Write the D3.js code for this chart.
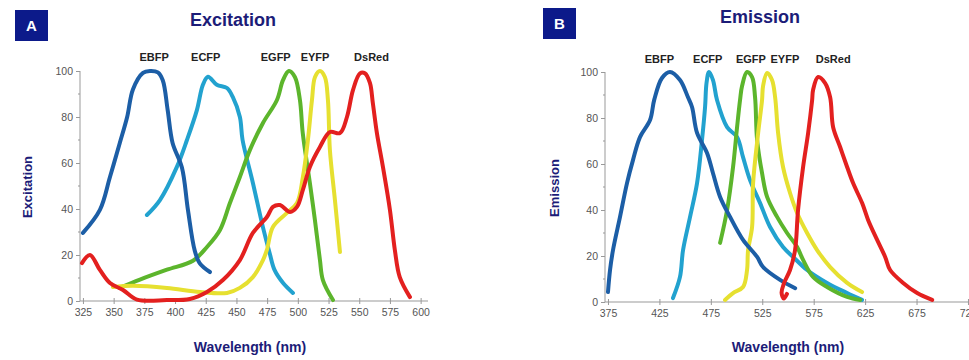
<!DOCTYPE html>
<html>
<head>
<meta charset="utf-8">
<script src="https://cdn.jsdelivr.net/npm/d3@7/dist/d3.min.js"></script>
<style>
  body { margin: 0; background: #fff; }
  svg { display: block; }
  .tick text { font-family: "Liberation Sans Narrow", "Liberation Sans", Arial, sans-serif; fill: #555; }
</style>
</head>
<body>
<div id="chart"></div>
<script>
// Data: [wavelength nm, relative value]
var names = ["EBFP", "ECFP", "EGFP", "EYFP", "DsRed"];
var colors = ["#1c5ea6", "#22a2cf", "#5cb52c", "#e6e030", "#e3201f"];

var exEBFP = [[325,29.6],[338.8,39.6],[347,53.9],[355,68.7],[361,80],[365.7,92],[373.9,99.2],[379.6,100],[386,99.4],[390,96],[394,83],[398,68.7],[405.6,58],[410.5,39.6],[416,22],[420,16.5],[428.4,12.6]];
var exECFP = [[377.1,37.4],[387.7,43.9],[401.5,58.3],[409.7,70],[417.8,83],[422.7,94],[426.8,97.5],[434,94],[442.3,92.6],[447,88.7],[452.8,80],[455,70],[463.4,51.3],[471.6,32],[477,20.9],[481,13.5],[488,7.8],[496,3.5]];
var exEGFP = [[355,5.7],[371.4,9.3],[393.4,13.6],[414.6,17.5],[426,23.5],[436.6,30.9],[444.7,42.6],[452.8,53.9],[461,65.7],[471.6,77.4],[483,87.4],[487.9,96],[492.7,100],[497.6,97.4],[501.7,87.4],[504,73],[509.8,51.3],[513.9,35.2],[518,17.8],[520.4,9.1],[528.6,0.4]];
var exEYFP = [[349.4,6.1],[365.7,6.6],[393.4,5.7],[420.3,3.9],[442.3,3.5],[452.8,5.7],[463.4,10.4],[471.6,17.8],[474.8,22.2],[479.7,32.2],[491.1,38.3],[499.3,42.6],[504.1,53.9],[508.2,70],[511.5,87.4],[514,97.4],[518,100],[522,97.4],[524.5,87.4],[526.1,65.7],[530.2,43.9],[534.3,21.3]];
var exDsRed = [[324.2,16.5],[330.7,20],[338.8,13.5],[347,7.8],[357.6,4.8],[369,0.6],[393.4,0.4],[412.1,0.9],[426,3.9],[439,9.1],[452.8,17.8],[463.4,29.6],[474.8,36.5],[479.7,40.9],[485.4,41.7],[493.6,38.7],[499.3,40.9],[504.1,48.3],[509.8,58.3],[518,67],[526.1,73.5],[534.3,73],[540,80],[544.9,91.7],[550.6,99],[554.6,99],[558.7,94.8],[561.1,86],[564.4,73],[569.3,58.3],[575,39.6],[579,22.2],[583,10.4],[591.3,1.7]];

var emEBFP = [[375,4.3],[377,13.9],[379.9,22.6],[386.7,37],[393.5,51.7],[399.3,61.7],[406.1,71.7],[415.9,79.1],[420,88],[427.5,97.4],[435.3,100],[445,96.5],[452.8,89],[456.7,84.8],[461.6,73.5],[471.3,64.8],[477.1,56],[484,45.7],[493.7,37],[506.3,27],[520,19.6],[525.8,15.2],[542.3,9.6],[557,6]];
var emECFP = [[438.2,1.7],[445,10.9],[448,22.6],[454.8,37],[461.6,51.7],[466.4,70.4],[469.4,84.8],[470.8,95.2],[473.2,100],[477.1,96.5],[481,87.8],[490.8,76],[500.5,71.7],[506.3,63],[513.1,53],[522.9,43],[532.6,32.6],[545.2,23.9],[555,19.6],[568.6,13.9],[588,8.3],[607.5,3.9],[622,0.9]];
var emEGFP = [[484,25.7],[490.8,40],[496.6,58.7],[500.5,76],[503.4,87.8],[505.4,94],[510.2,100],[515.1,97.8],[518,89],[520,70.4],[524.8,56],[529.7,45.7],[539.4,37],[549.1,30],[558.9,23.9],[564.7,18.3],[574.4,10.9],[588,6.5],[607.5,2.2],[620.2,0.9]];
var emEYFP = [[488.8,0.9],[496.6,3.9],[506.3,6.5],[510.2,13.9],[511.2,22.6],[515.1,32.6],[516.1,51.7],[521,73.5],[524.8,87.8],[525.8,94],[529.7,99.6],[534.5,96.5],[537.5,89],[538.4,84.8],[540.4,73.5],[545.2,58.7],[552,47.4],[558.9,38.7],[568.6,30],[578.3,22.6],[591,15.2],[607.5,8.3],[622,4.3]];
var emDsRed = [[549,3.5],[546,1.5],[543.8,4],[546,8],[552,13.9],[556.9,22.6],[559.8,40],[564.7,58.7],[569.6,73.5],[573.5,87.8],[574.4,92.2],[579.3,97.8],[586.1,95.2],[591,89],[593.9,76],[600.7,67.4],[607.5,58.7],[613.3,51.7],[622.1,43],[627.9,35.7],[636.7,27],[644.5,19.6],[649.3,13.9],[662,8.3],[675.6,3.9],[690.2,0.9]];

var exTicks = [325, 350, 375, 400, 425, 450, 475, 500, 525, 550, 575, 600];
var emTicks = [375, 425, 475, 525, 575, 625, 675, 725];
var yTicks = [0, 20, 40, 60, 80, 100];
var yMinor = [10, 30, 50, 70, 90];

var exLabelX = [383, 425, 482, 514, 560];   // nm where the name sits, panel A
var emLabelX = [425, 472, 514, 547, 594];   // panel B

var navy = "#1c1c78";
var font = "'Liberation Sans', Arial, sans-serif";
var narrow = "'Liberation Sans Narrow', 'Liberation Sans', Arial, sans-serif";

var svg = d3.select("#chart")
  .append("svg")
  .attr("width", 969)
  .attr("height", 360)

function drawPanel(opt) {
  var x = d3.scaleLinear().domain(opt.xDomain).range(opt.xRange);
  var y = d3.scaleLinear().domain([0, 100]).range(opt.yRange);

  var g = svg.append("g");

  // letter box
  g.append("rect")
    .attr("x", opt.box[0]).attr("y", opt.box[1])
    .attr("width", 33).attr("height", 31)
    .attr("fill", "#0c1a8a")
  g.append("text")
    .attr("x", opt.box[0] + 16.5).attr("y", opt.box[1] + 21)
    .attr("text-anchor", "middle")
    .attr("font-family", font).attr("font-weight", "bold").attr("font-size", 15)
    .attr("fill", "#fff")
    .text(opt.letter)

  g.append("text")
    .attr("x", opt.titleX).attr("y", opt.titleY)
    .attr("text-anchor", "middle")
    .attr("font-family", font).attr("font-weight", "bold").attr("font-size", 18)
    .attr("fill", navy)
    .text(opt.title)

  // axes
  var xAxis = d3.axisBottom(x).tickValues(opt.xTicks).tickSize(3).tickPadding(5)
  var gx = g.append("g")
    .attr("transform", "translate(0," + opt.yRange[0] + ")")
    .call(xAxis)
  gx.select(".domain").attr("d", "M" + opt.xRange[0] + ",0H" + opt.xRange[1])
  gx.selectAll(".tick line").attr("y1", -3)

  var yAxis = d3.axisLeft(y).tickValues(yTicks).tickSize(4).tickPadding(3)
  var gy = g.append("g")
    .attr("transform", "translate(" + opt.xRange[0] + ",0)")
    .call(yAxis)
  gy.select(".domain").attr("d", "M0," + opt.yRange[0] + "V" + opt.yRange[1])
  gy.selectAll(".minor")
    .data(yMinor)
    .enter()
    .append("line")
    .attr("x1", -2).attr("x2", 0)
    .attr("y1", d => y(d)).attr("y2", d => y(d))
    .attr("stroke", "#999")

  g.selectAll(".domain, .tick line").attr("stroke", "#999")
  g.selectAll(".tick text").attr("font-size", 10.5).attr("fill", "#555")

  g.append("text")
    .attr("transform", "translate(" + opt.yLabelX + "," + opt.yLabelY + ") rotate(-90)")
    .attr("text-anchor", "middle")
    .attr("font-family", font).attr("font-weight", "bold").attr("font-size", 13)
    .attr("fill", navy)
    .text(opt.yLabel)

  g.append("text")
    .attr("x", opt.xLabelX).attr("y", 352)
    .attr("text-anchor", "middle")
    .attr("font-family", font).attr("font-weight", "bold").attr("font-size", 14)
    .attr("fill", navy)
    .text("Wavelength (nm)")

  // curves
  var line = d3.line()
    .x(d => x(d[0]))
    .y(d => y(d[1]))
    .curve(d3.curveCatmullRom)

  opt.order.forEach(function(i) {
    g.append("path")
      .datum(opt.series[i])
      .attr("d", line)
      .attr("fill", "none")
      .attr("stroke", colors[i])
      .attr("stroke-width", 4)
      .attr("stroke-linejoin", "round")
      .attr("stroke-linecap", "round")
  })

  g.selectAll(".name")
    .data(names)
    .enter()
    .append("text")
    .attr("x", (d, i) => x(opt.labelX[i]))
    .attr("y", opt.labelY)
    .attr("text-anchor", "middle")
    .attr("font-family", narrow).attr("font-weight", "bold").attr("font-size", 11)
    .attr("fill", "#222")
    .text(d => d)
}

drawPanel({
  letter: "A", box: [15, 10], title: "Excitation", titleX: 233, titleY: 26,
  xDomain: [322.6, 606], xRange: [80, 428], yRange: [301, 71], xTicks: exTicks,
  yLabel: "Excitation", yLabelX: 32, yLabelY: 187, xLabelX: 250,
  series: [exEBFP, exECFP, exEGFP, exEYFP, exDsRed], order: [1, 2, 3, 0, 4],
  labelX: exLabelX, labelY: 61
})

drawPanel({
  letter: "B", box: [543, 8], title: "Emission", titleX: 760, titleY: 23,
  xDomain: [372.1, 726], xRange: [605, 969], yRange: [302, 72], xTicks: emTicks,
  yLabel: "Emission", yLabelX: 559, yLabelY: 188, xLabelX: 788,
  series: [emEBFP, emECFP, emEGFP, emEYFP, emDsRed], order: [1, 2, 3, 0, 4],
  labelX: emLabelX, labelY: 63
})
</script>
</body>
</html>
